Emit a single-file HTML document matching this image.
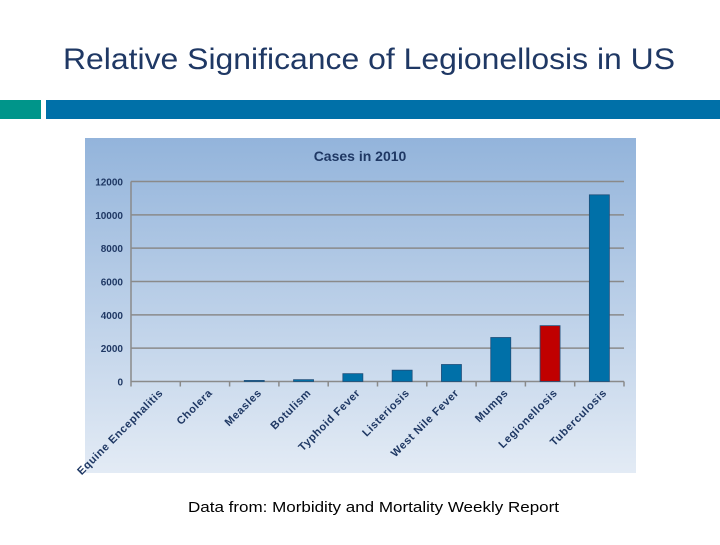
<!DOCTYPE html>
<html><head><meta charset="utf-8"><style>
body{margin:0;width:720px;height:540px;background:#fff;overflow:hidden;font-family:"Liberation Sans",sans-serif}
</style></head><body>
<svg width="720" height="540" xmlns="http://www.w3.org/2000/svg">
<defs><linearGradient id="bg" x1="0" y1="0" x2="0" y2="1"><stop offset="0" stop-color="#93b4db"/><stop offset="1" stop-color="#e3ebf5"/></linearGradient></defs>
<text x="63" y="69" textLength="612" lengthAdjust="spacingAndGlyphs" font-size="30" fill="#1f3864">Relative Significance of Legionellosis in US</text>
<rect x="0" y="100" width="41" height="19" fill="#00958a"/>
<rect x="46" y="100" width="674" height="19" fill="#0070a8"/>
<rect x="85" y="138" width="551" height="335" fill="url(#bg)"/>
<text x="360" y="161" text-anchor="middle" font-size="14" font-weight="bold" fill="#1f3864">Cases in 2010</text>
<g id="plot"></g>
<text x="188" y="512" textLength="371" lengthAdjust="spacingAndGlyphs" font-size="15" fill="#000">Data from: Morbidity and Mortality Weekly Report</text>
</svg>
<script>
const categories=["Equine Encephalitis","Cholera","Measles","Botulism","Typhoid Fever","Listeriosis","West Nile Fever","Mumps","Legionellosis","Tuberculosis"];
const cases=[0,0,63,110,470,680,1020,2640,3350,11200];
const yTicks=[0,2000,4000,6000,8000,10000,12000];
const highlight="Legionellosis";
const NS="http://www.w3.org/2000/svg";
const g=document.getElementById('plot');
const x0=131,x1=624,y0=381.5,y1=181.5,yMax=12000;
const bw=(x1-x0)/categories.length;
const y=v=>y0-(v/yMax)*(y0-y1);
const xc=i=>x0+bw*(i+0.5);
function mk(t,a){const e=document.createElementNS(NS,t);for(const k in a)e.setAttribute(k,a[k]);g.appendChild(e);return e;}
yTicks.forEach(v=>{
  const l=mk('line',{x1:x0,x2:x1,y1:y(v),y2:y(v),stroke:'#8a8a8a','stroke-width':1.5});
  
  
  const t=mk('text',{x:x0-8,y:y(v)+4,'text-anchor':'end','font-size':10,'font-weight':'bold',fill:'#1f3864'});
  t.textContent=v;
  
  
});
const ax=mk('line',{x1:x0,x2:x0,y1:y1,y2:y0,stroke:'#8a8a8a','stroke-width':1.5});


for(let i=0;i<=categories.length;i++){
  const tk=mk('line',{x1:x0+bw*i,x2:x0+bw*i,y1:y0,y2:y0+5,stroke:'#8a8a8a','stroke-width':1.5});
  
  
}
categories.forEach((c,i)=>{
  const v=cases[i];
  if(v>0){
    const r=mk('rect',{x:xc(i)-10,y:y(v),width:20,height:y0-y(v),fill:c===highlight?'#c00000':'#0070a8',stroke:'#1f4e79','stroke-width':0.8});
    
    
  }
  const t=mk('text',{x:0,y:0,'text-anchor':'end','font-size':11,'font-weight':'bold',fill:'#1f3864','letter-spacing':'0.6',transform:`translate(${xc(i)+8},${y0+12}) rotate(-45)`});
  t.textContent=c;
  
  
});
</script>
</body></html>
